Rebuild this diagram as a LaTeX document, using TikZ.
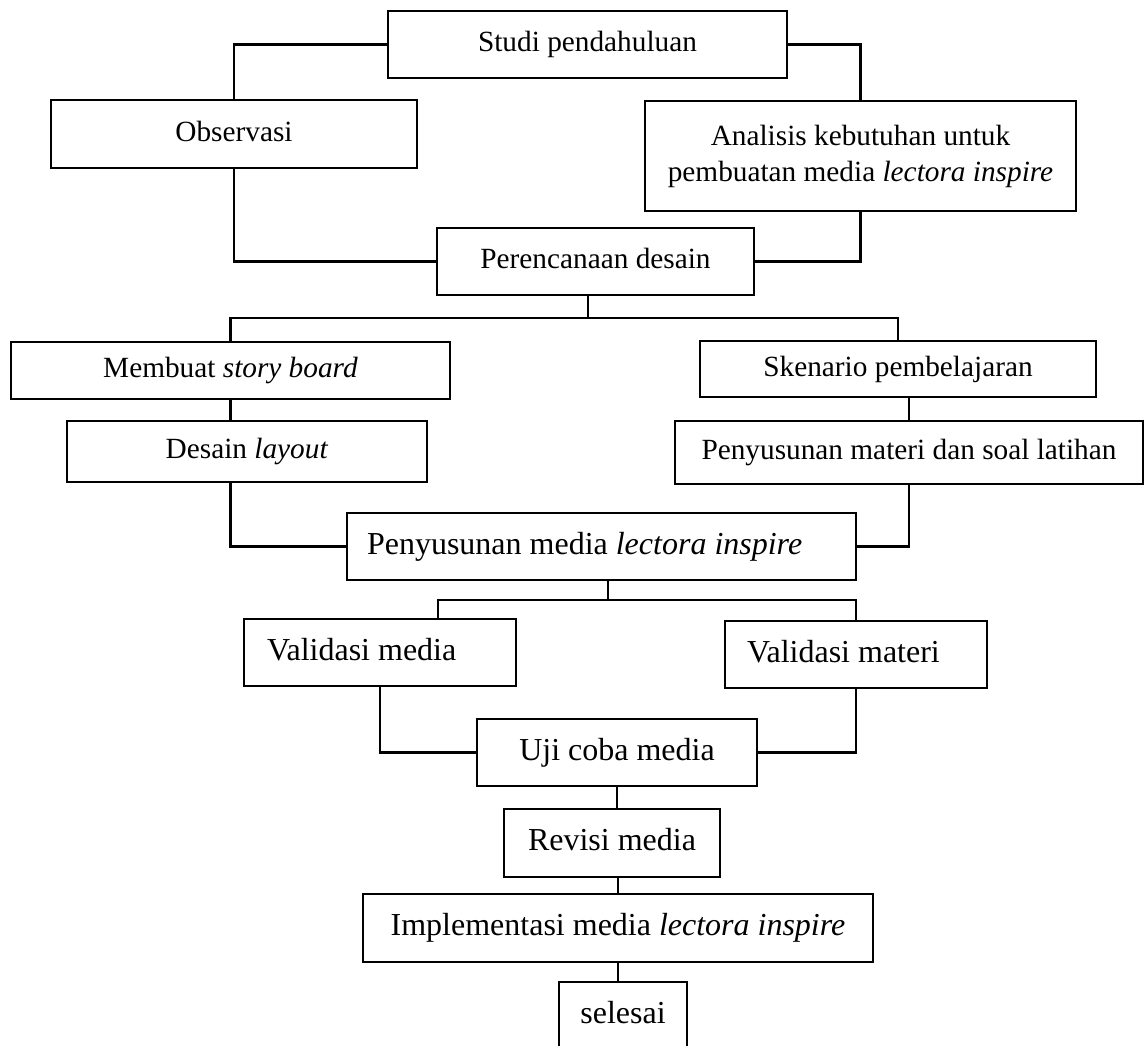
\documentclass[tikz,border=0pt]{standalone}
\usepackage{fontspec}
\setmainfont{Liberation Serif}
\usepackage{tikz}
\usetikzlibrary{calc}

\begin{document}
\begin{tikzpicture}[x=1pt,y=-1pt,
  box/.style={draw,line width=2.2pt,inner sep=0pt,align=center,font=\fontsize{29.3}{36}\selectfont,text height=20pt,text depth=6pt},
  bigbox/.style={box,font=\fontsize{32}{38}\selectfont,text height=22pt,text depth=7pt},
  conn/.style={line width=2.2pt}]
\useasboundingbox (0,0) rectangle (1144,1045);
\clip (0,0) rectangle (1144,1045);
\node[box,minimum width=399pt,minimum height=67pt] (studi) at (587.5,44.5) {Studi pendahuluan};
\node[box,minimum width=366pt,minimum height=68pt] (obs) at (234,134) {Observasi};
\node[box,minimum width=431pt,minimum height=110pt,text height=,text depth=] (anal) at (860.5,156) {Analisis kebutuhan untuk\\pembuatan media \textit{lectora inspire}};
\node[box,minimum width=317pt,minimum height=67pt] (peren) at (595.5,261.5) {Perencanaan desain};
\node[box,minimum width=439pt,minimum height=57pt] (membuat) at (230.5,370.5) {Membuat \textit{story board}};
\node[box,minimum width=396pt,minimum height=56pt] (skenario) at (898,369) {Skenario pembelajaran};
\node[box,minimum width=360pt,minimum height=61pt] (desain) at (247,451.5) {Desain \textit{layout}};
\node[box,minimum width=468pt,minimum height=63pt] (materi) at (909,452.5) {Penyusunan materi dan soal latihan};
\node[bigbox,text width=469pt,inner xsep=20pt,align=flush left,minimum height=67pt] (penmedia) at (601.5,546.5) {Penyusunan media \textit{lectora inspire}};
\node[bigbox,text width=226pt,inner xsep=23pt,align=flush left,minimum height=67pt] (valmedia) at (380,652.5) {Validasi media};
\node[bigbox,text width=218pt,inner xsep=22pt,align=flush left,minimum height=67pt] (valmateri) at (856,654.5) {Validasi materi};
\node[bigbox,minimum width=280pt,minimum height=67pt] (uji) at (617,752.5) {Uji coba media};
\node[bigbox,minimum width=216pt,minimum height=68pt] (revisi) at (612,843) {Revisi media};
\node[bigbox,minimum width=510pt,minimum height=68pt] (impl) at (618,928) {Implementasi media \textit{lectora inspire}};
\node[bigbox,minimum width=128pt,minimum height=68pt] (selesai) at (623,1016) {selesai};
\coordinate (split1) at (588,318);
\coordinate (split2) at (608,600);
\draw[conn] (studi.west) -| (obs.north);
\draw[conn] (studi.east) -| (anal.north);
\draw[conn] (obs.south) |- (peren.west);
\draw[conn] (anal.south) |- (peren.east);
\draw[conn] (split1 |- peren.south) -- (split1);
\draw[conn] (membuat.north) |- (split1) -| (skenario.north);
\draw[conn] (membuat.south) -- (membuat.south |- desain.north);
\draw[conn] (materi.north |- skenario.south) -- (materi.north);
\draw[conn] (membuat.south |- desain.south) |- (penmedia.west);
\draw[conn] (materi.south) |- (penmedia.east);
\draw[conn] (split2 |- penmedia.south) -- (split2);
\draw[conn] ($(valmedia.north east)+(-79,0)$) |- (split2) -| (valmateri.north);
\draw[conn] (valmedia.south) |- (uji.west);
\draw[conn] (valmateri.south) |- (uji.east);
\draw[conn] (uji.south) -- (uji.south |- revisi.north);
\draw[conn] (impl.north |- revisi.south) -- (impl.north);
\draw[conn] (impl.south) -- (impl.south |- selesai.north);
\end{tikzpicture}
\end{document}
